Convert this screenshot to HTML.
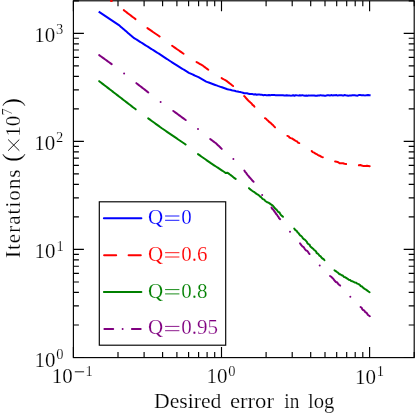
<!DOCTYPE html>
<html><head><meta charset="utf-8"><title>plot</title>
<style>html,body{margin:0;padding:0;background:#fff;overflow:hidden}svg{display:block}text{font-family:"Liberation Serif",serif;stroke:#fff;stroke-width:0.2px;}</style>
</head><body>
<svg style="will-change:transform" width="415" height="415" viewBox="0 0 415 415">
<rect width="415" height="415" fill="#fff"/>
<defs><clipPath id="c"><rect x="73.4" y="0.8" width="340.8" height="356.8"/></clipPath></defs>
<g clip-path="url(#c)" fill="none" stroke-width="2.00" stroke-linecap="round" stroke-linejoin="round">
<polyline stroke="#0000ff" stroke-linecap="butt" points="98.70,11.70 99.82,12.44 100.94,13.19 102.07,13.93 103.19,14.68 104.31,15.42 105.43,16.17 106.56,16.91 107.68,17.66 108.80,18.40 109.92,19.14 111.04,19.89 112.17,20.63 113.29,21.38 114.41,22.12 115.53,22.87 116.66,23.61 117.78,24.36 118.90,25.10 119.94,25.99 120.97,26.89 122.01,27.78 123.04,28.67 124.08,29.56 125.11,30.46 126.15,31.35 127.19,32.24 128.22,33.14 129.26,34.03 130.29,34.92 131.33,35.81 132.36,36.71 133.40,37.60 134.51,38.30 135.62,39.00 136.72,39.70 137.83,40.40 138.94,41.10 140.05,41.80 141.16,42.50 142.27,43.20 143.38,43.90 144.48,44.60 145.59,45.30 146.70,46.00 147.81,46.70 148.92,47.40 150.03,48.10 151.13,48.80 152.24,49.50 153.35,50.20 154.46,50.90 155.57,51.60 156.68,52.30 157.78,53.00 158.89,53.70 160.00,54.40 161.11,55.13 162.22,55.87 163.33,56.60 164.44,57.33 165.56,58.07 166.67,58.80 167.78,59.53 168.89,60.27 170.00,61.00 171.22,61.78 172.43,62.57 173.65,63.35 174.87,64.13 176.08,64.92 177.30,65.70 178.46,66.41 179.62,67.12 180.78,67.83 181.94,68.54 183.10,69.25 184.26,69.96 185.42,70.67 186.58,71.38 187.74,72.09 188.90,72.80 190.10,73.35 191.30,73.90 192.50,74.45 193.70,75.00 194.90,75.55 196.10,76.10 197.30,76.65 198.50,77.20 199.78,77.93 201.07,78.67 202.35,79.40 203.63,80.13 204.92,80.87 206.20,81.60 207.49,82.08 208.78,82.56 210.07,83.03 211.36,83.51 212.64,83.99 213.93,84.47 215.22,84.94 216.51,85.42 217.80,85.90 219.17,86.37 220.54,86.84 221.91,87.31 223.29,87.79 224.66,88.26 226.03,88.73 227.40,89.19 228.84,89.55 230.29,89.84 231.72,90.22 233.16,90.54 234.62,90.83 235.99,91.22 237.39,91.43 238.76,91.83 240.17,92.05 241.55,92.36 242.92,92.76 244.28,93.21 245.69,93.14 247.06,93.34 248.41,93.67 249.76,93.98 251.15,93.99 252.53,94.08 253.87,94.54 255.29,94.17 256.63,94.73 258.02,94.52 259.40,94.54 260.78,94.63 262.14,94.86 263.48,95.31 264.88,94.89 266.26,95.19 267.63,95.24 269.02,95.07 270.39,95.20 271.77,94.88 273.15,94.89 274.53,95.01 275.91,95.35 277.29,95.19 278.67,95.13 280.04,95.33 281.42,95.25 282.80,95.16 284.10,95.52 285.41,95.46 286.72,95.16 288.02,95.40 289.33,95.38 290.63,95.63 291.94,95.54 293.25,95.25 294.55,95.74 295.86,95.15 297.17,95.37 298.47,95.62 299.78,95.21 301.08,95.46 302.39,95.15 303.69,95.61 305.00,95.69 306.31,95.55 307.62,95.75 308.94,95.36 310.25,95.62 311.56,95.55 312.87,95.53 314.18,95.44 315.50,95.71 316.81,95.78 318.12,95.44 319.43,95.57 320.74,95.14 322.06,95.59 323.37,95.55 324.68,95.79 325.99,95.66 327.30,95.28 328.62,95.35 329.93,95.54 331.24,95.09 332.55,95.39 333.86,95.18 335.18,95.14 336.49,95.10 337.80,95.59 339.11,95.14 340.42,95.22 341.74,95.31 343.05,95.64 344.36,95.09 345.67,95.34 346.98,95.41 348.30,95.64 349.61,95.59 350.92,95.61 352.23,95.20 353.54,95.29 354.86,95.25 356.17,95.61 357.48,95.66 358.79,95.09 360.10,95.11 361.42,95.14 362.73,95.14 364.04,95.31 365.35,95.38 366.66,95.15 367.97,94.96 369.29,95.25 370.60,95.30"/>
<polyline stroke="#ff0000" points="99.17,-10.22 100.24,-9.36 101.31,-8.50 102.38,-7.64 103.46,-6.77 104.53,-5.91 105.60,-5.05 106.67,-4.19 107.74,-3.33 108.82,-2.46 109.89,-1.60 110.96,-0.74 112.03,0.12"/>
<polyline stroke="#ff0000" points="123.78,10.16 124.84,10.98 125.91,11.80 126.98,12.61 128.05,13.43 129.12,14.24 130.18,15.06 131.25,15.87 132.32,16.69 133.39,17.50 134.46,18.32 135.52,19.14"/>
<polyline stroke="#ff0000" points="147.40,28.14 148.51,28.90 149.63,29.67 150.75,30.44 151.87,31.20 152.99,31.97 154.11,32.73 155.23,33.50 156.35,34.26 157.47,35.03 158.59,35.80 159.70,36.56"/>
<polyline stroke="#ff0000" points="172.09,45.74 173.24,46.54 174.40,47.35 175.55,48.15 176.70,48.95 177.85,49.75 179.00,50.55 180.15,51.35 181.30,52.15 182.46,52.96 183.61,53.76"/>
<polyline stroke="#ff0000" points="196.53,62.09 197.70,62.73 198.88,63.37 200.05,64.02 201.23,64.66 202.40,65.30 203.58,66.19 204.77,67.08 205.95,67.96 207.14,68.85 208.32,69.74"/>
<polyline stroke="#ff0000" points="221.62,78.10 222.84,78.80 224.06,79.50 225.28,80.20 226.50,80.90 227.59,81.77 228.70,82.62 229.81,83.47 230.91,84.33 232.01,85.19 233.13,86.03"/>
<polyline stroke="#ff0000" points="244.12,96.03 245.17,96.90 245.90,98.09 246.87,99.03 247.78,100.04 248.74,101.00 249.80,101.86 250.75,102.83 251.79,103.71 252.55,104.86 253.70,105.64 254.48,106.77"/>
<polyline stroke="#ff0000" points="264.94,118.20 266.16,118.90 267.10,119.89 268.14,120.79 269.06,121.80 270.21,122.57 271.25,123.46 272.19,124.46 273.22,125.35 274.11,126.41 275.06,127.40"/>
<polyline stroke="#ff0000" points="287.31,135.91 288.68,136.34 289.57,137.57 290.86,138.13 292.23,138.57 293.39,139.35 294.55,140.13 295.74,140.85 297.03,141.43 297.96,142.58 299.29,143.09"/>
<polyline stroke="#ff0000" points="311.69,151.04 312.68,152.14 314.07,152.64 315.24,153.47 316.58,154.05 317.76,154.87 318.95,155.52 320.28,155.99 321.45,156.87 322.84,157.18"/>
<polyline stroke="#ff0000" points="335.07,161.49 336.69,161.77 338.26,162.18 339.60,163.30 341.30,163.27 342.94,163.26 344.50,163.78 346.11,164.01"/>
<polyline stroke="#ff0000" points="358.90,165.25 360.28,165.03 361.60,165.49 362.92,165.92 364.28,165.95 365.64,165.95 367.01,165.76 368.36,165.94 369.70,166.15"/>
<polyline stroke="#008000" points="99.18,81.17 100.22,81.97 101.26,82.78 102.31,83.58 103.35,84.39 104.40,85.19 105.44,85.99 106.49,86.80 107.53,87.60 108.57,88.41 109.62,89.21 110.66,90.02 111.71,90.82 112.75,91.63 113.80,92.43 114.84,93.24 115.88,94.04 116.93,94.85 117.97,95.65 119.02,96.46 120.06,97.26 121.10,98.07 122.15,98.87 123.19,99.68 124.24,100.48 125.28,101.29 126.33,102.09 127.37,102.90 128.41,103.70 129.46,104.51 130.50,105.31 131.55,106.11 132.59,106.92 133.64,107.72 134.68,108.53 135.72,109.33"/>
<polyline stroke="#008000" points="148.19,118.35 149.26,119.13 150.34,119.91 151.42,120.69 152.50,121.47 153.58,122.26 154.65,123.04 155.73,123.82 156.81,124.60 157.89,125.38 158.97,126.16 160.04,126.94 161.12,127.72 162.20,128.50 163.32,129.26 164.44,130.03 165.56,130.79 166.68,131.56 167.80,132.32 168.92,133.09 170.03,133.85 171.15,134.62 172.27,135.38 173.39,136.15 174.51,136.91 175.63,137.68 176.75,138.44 177.87,139.21 178.99,139.97 180.11,140.74 181.23,141.50 182.35,142.27 183.47,143.03 184.59,143.80 185.70,144.56"/>
<polyline stroke="#008000" points="197.99,154.14 199.09,154.92 200.19,155.69 201.29,156.46 202.39,157.23 203.49,158.00 204.60,158.77 205.70,159.54 206.80,160.31 207.90,161.09 209.00,161.86 210.10,162.63 211.20,163.40 212.29,164.12 213.38,164.83 214.47,165.55 215.57,166.27 216.66,166.98 217.75,167.70 218.84,168.42 219.93,169.13 221.03,169.85 222.12,170.57 223.21,171.28 224.30,172.00 225.60,173.00 227.60,172.71 228.76,173.59 229.91,174.50 231.09,175.36 232.26,176.23 233.37,177.19 234.51,178.11 235.72,178.93"/>
<polyline stroke="#008000" points="248.98,188.16 249.97,189.11 251.07,189.93 252.14,190.76 253.25,191.56 254.49,192.18 255.49,193.13 256.63,193.88 257.83,194.56 258.92,195.37 259.92,196.32 261.02,197.13 261.94,198.17 262.92,199.14 264.18,199.64 265.04,200.69 266.08,201.49 267.15,202.24 268.46,202.67 269.58,203.36 270.63,204.14 271.70,204.89 272.76,205.66 273.65,206.67 274.42,207.80 275.38,208.79 276.50,209.64 277.34,210.74 278.19,211.82 279.49,212.50 280.12,213.79 280.92,214.92 281.92,215.88 282.99,216.76"/>
<polyline stroke="#008000" points="294.21,228.54 294.96,229.62 295.98,230.45 297.02,231.27 297.59,232.52 298.70,233.26 299.34,234.44 300.16,235.49 301.35,236.18 302.25,237.14 302.87,238.36 303.89,239.22 305.07,239.92 305.99,240.86 306.88,241.83 307.39,243.16 308.34,244.07 309.58,244.72 310.13,246.01 310.95,247.04 312.02,247.85 313.08,248.67 313.88,249.72 315.04,250.48 316.06,251.38 316.55,252.82 317.67,253.62 318.69,254.52 319.45,255.68 320.66,256.40 321.41,257.58 322.39,258.51 323.66,259.17 324.48,260.28"/>
<polyline stroke="#008000" points="334.48,270.36 335.79,271.10 336.98,272.01 338.20,272.87 339.26,273.95 340.58,274.45 341.73,275.25 343.03,275.78 343.96,276.95 345.35,277.31 346.51,278.07 347.67,278.85 348.76,279.74 350.12,280.05 351.17,280.96 352.50,281.30 353.69,281.92 354.89,282.51 356.25,282.80 357.32,283.66 358.60,284.10 359.81,284.81 360.60,286.06 361.97,286.50 362.96,287.47 363.96,288.40 365.14,289.10 366.35,289.77 367.38,290.67 368.48,291.49 369.61,292.25"/>
<polyline stroke="#800080" points="99.19,55.15 100.33,55.97 101.46,56.79 102.60,57.60 103.74,58.42 104.88,59.24 106.02,60.06 107.16,60.88 108.30,61.70 109.44,62.51 110.57,63.33 111.71,64.15"/>
<polyline stroke="#800080" points="136.37,83.17 137.46,84.01 138.55,84.85 139.63,85.69 140.72,86.54 141.81,87.38 142.89,88.22 143.98,89.06 145.07,89.91 146.15,90.75 147.24,91.59 148.33,92.43"/>
<polyline stroke="#800080" points="173.28,110.95 174.41,111.78 175.54,112.61 176.67,113.43 177.80,114.26 178.93,115.09 180.07,115.91 181.20,116.74 182.33,117.57 183.46,118.39 184.59,119.22 185.72,120.05"/>
<polyline stroke="#800080" points="210.18,139.05 211.35,139.90 212.51,140.75 213.67,141.60 214.84,142.45 216.00,143.30 216.96,144.23 217.92,145.16 218.88,146.09 219.85,147.02 220.81,147.95 221.77,148.88"/>
<polyline stroke="#800080" points="244.35,170.59 245.13,171.85 246.19,172.91 246.92,174.21 247.88,175.34 248.83,176.40 249.64,177.60 250.70,178.58 251.64,179.66 252.54,180.78 253.60,181.76"/>
<polyline stroke="#800080" points="271.55,207.48 272.10,208.72 273.15,209.59 273.83,210.73 274.68,211.75 275.45,212.82 276.13,213.96 277.05,214.93 277.78,216.03 278.60,217.07 279.12,218.33 280.15,219.22"/>
<polyline stroke="#800080" points="300.00,243.25 300.77,244.32 301.55,245.39 302.39,246.40 303.62,247.07 304.33,248.19 305.00,249.35 305.93,250.28 307.17,250.94 308.05,251.91 308.76,253.04 309.60,254.05"/>
<polyline stroke="#800080" points="330.04,276.01 331.25,276.75 332.19,277.80 333.28,278.67 334.01,279.93 334.96,280.94 335.92,281.96 337.29,282.54 338.03,283.78 339.07,284.71 340.16,285.59"/>
<polyline stroke="#800080" points="360.53,307.02 361.64,307.77 362.21,309.06 363.10,310.03 364.40,310.58 364.98,311.88 366.18,312.52 367.08,313.49 367.76,314.67 368.78,315.52 369.87,316.28"/>
<circle cx="124.1" cy="73.4" r="1.0" fill="#800080" stroke="none"/>
<circle cx="160.6" cy="102.0" r="1.0" fill="#800080" stroke="none"/>
<circle cx="198.0" cy="129.1" r="1.0" fill="#800080" stroke="none"/>
<circle cx="233.4" cy="159.1" r="1.0" fill="#800080" stroke="none"/>
<circle cx="262.2" cy="194.9" r="1.0" fill="#800080" stroke="none"/>
<circle cx="290.0" cy="231.7" r="1.0" fill="#800080" stroke="none"/>
<circle cx="319.7" cy="265.5" r="1.0" fill="#800080" stroke="none"/>
<circle cx="350.3" cy="296.8" r="1.0" fill="#800080" stroke="none"/>
</g>
<g stroke="#000" stroke-width="1.15" fill="none">
<path d="M73.4 357.5V347.0M73.4 0.8V11.2"/>
<path d="M118.0 357.5V352.0M118.0 0.8V6.2"/>
<path d="M144.1 357.5V352.0M144.1 0.8V6.2"/>
<path d="M162.6 357.5V352.0M162.6 0.8V6.2"/>
<path d="M176.9 357.5V352.0M176.9 0.8V6.2"/>
<path d="M188.6 357.5V352.0M188.6 0.8V6.2"/>
<path d="M198.6 357.5V352.0M198.6 0.8V6.2"/>
<path d="M207.1 357.5V352.0M207.1 0.8V6.2"/>
<path d="M214.7 357.5V352.0M214.7 0.8V6.2"/>
<path d="M221.5 357.5V347.0M221.5 0.8V11.2"/>
<path d="M266.1 357.5V352.0M266.1 0.8V6.2"/>
<path d="M292.2 357.5V352.0M292.2 0.8V6.2"/>
<path d="M310.7 357.5V352.0M310.7 0.8V6.2"/>
<path d="M325.0 357.5V352.0M325.0 0.8V6.2"/>
<path d="M336.7 357.5V352.0M336.7 0.8V6.2"/>
<path d="M346.7 357.5V352.0M346.7 0.8V6.2"/>
<path d="M355.2 357.5V352.0M355.2 0.8V6.2"/>
<path d="M362.8 357.5V352.0M362.8 0.8V6.2"/>
<path d="M369.6 357.5V347.0M369.6 0.8V11.2"/>
<path d="M414.2 357.5V352.0M414.2 0.8V6.2"/>
<path d="M73.4 357.5H83.9M414.2 357.5H403.7"/>
<path d="M73.4 325.0H78.9M414.2 325.0H408.7"/>
<path d="M73.4 305.9H78.9M414.2 305.9H408.7"/>
<path d="M73.4 292.4H78.9M414.2 292.4H408.7"/>
<path d="M73.4 282.0H78.9M414.2 282.0H408.7"/>
<path d="M73.4 273.4H78.9M414.2 273.4H408.7"/>
<path d="M73.4 266.2H78.9M414.2 266.2H408.7"/>
<path d="M73.4 259.9H78.9M414.2 259.9H408.7"/>
<path d="M73.4 254.4H78.9M414.2 254.4H408.7"/>
<path d="M73.4 249.4H83.9M414.2 249.4H403.7"/>
<path d="M73.4 216.9H78.9M414.2 216.9H408.7"/>
<path d="M73.4 197.9H78.9M414.2 197.9H408.7"/>
<path d="M73.4 184.4H78.9M414.2 184.4H408.7"/>
<path d="M73.4 173.9H78.9M414.2 173.9H408.7"/>
<path d="M73.4 165.3H78.9M414.2 165.3H408.7"/>
<path d="M73.4 158.1H78.9M414.2 158.1H408.7"/>
<path d="M73.4 151.8H78.9M414.2 151.8H408.7"/>
<path d="M73.4 146.3H78.9M414.2 146.3H408.7"/>
<path d="M73.4 141.4H83.9M414.2 141.4H403.7"/>
<path d="M73.4 108.8H78.9M414.2 108.8H408.7"/>
<path d="M73.4 89.8H78.9M414.2 89.8H408.7"/>
<path d="M73.4 76.3H78.9M414.2 76.3H408.7"/>
<path d="M73.4 65.8H78.9M414.2 65.8H408.7"/>
<path d="M73.4 57.3H78.9M414.2 57.3H408.7"/>
<path d="M73.4 50.0H78.9M414.2 50.0H408.7"/>
<path d="M73.4 43.8H78.9M414.2 43.8H408.7"/>
<path d="M73.4 38.2H78.9M414.2 38.2H408.7"/>
<path d="M73.4 33.3H83.9M414.2 33.3H403.7"/>
<path d="M73.4 0.8H78.9M414.2 0.8H408.7"/>
<rect x="73.4" y="0.8" width="340.8" height="356.8"/>
</g>
<rect x="99.3" y="201.8" width="126.4" height="143.4" fill="#fff" stroke="#000" stroke-width="1.15"/>
<g fill="none" stroke-width="2">
<path stroke="#0000ff" d="M103.9 218.3H141.4" stroke-linecap="round"/>
<path stroke="#ff0000" stroke-linecap="round" d="M104.1 255.2H116.2M128.6 255.2H140.8"/>
<path stroke="#008000" d="M103.9 292.1H141.4" stroke-linecap="round"/>
<path stroke="#800080" stroke-linecap="round" d="M104.4 329.0H113.2M131.9 329.0H140.7"/>
<circle cx="122.6" cy="329.0" r="1" fill="#800080" stroke="none"/>
</g>
<text x="148.0" y="224.0" font-size="21" fill="#0000ff">Q</text><path d="M165.1 216.0H179.4M165.1 220.3H179.4" stroke="#0000ff" stroke-width="0.9" fill="none"/><text x="181.2" y="224.0" font-size="21" fill="#0000ff">0</text>
<text x="148.0" y="260.7" font-size="21" fill="#ff0000">Q</text><path d="M165.1 252.7H179.4M165.1 257.0H179.4" stroke="#ff0000" stroke-width="0.9" fill="none"/><text x="181.2" y="260.7" font-size="21" fill="#ff0000">0</text><text x="191.8" y="260.7" font-size="21" fill="#ff0000">.</text><text x="197.1" y="260.7" font-size="21" fill="#ff0000">6</text>
<text x="148.0" y="297.6" font-size="21" fill="#008000">Q</text><path d="M165.1 289.6H179.4M165.1 293.9H179.4" stroke="#008000" stroke-width="0.9" fill="none"/><text x="181.2" y="297.6" font-size="21" fill="#008000">0</text><text x="191.8" y="297.6" font-size="21" fill="#008000">.</text><text x="197.1" y="297.6" font-size="21" fill="#008000">8</text>
<text x="148.0" y="334.4" font-size="21" fill="#800080">Q</text><path d="M165.1 326.4H179.4M165.1 330.7H179.4" stroke="#800080" stroke-width="0.9" fill="none"/><text x="181.2" y="334.4" font-size="21" fill="#800080">0</text><text x="191.8" y="334.4" font-size="21" fill="#800080">.</text><text x="197.1" y="334.4" font-size="21" fill="#800080">9</text><text x="207.5" y="334.4" font-size="21" fill="#800080">5</text>
<text x="34.3" y="42.0" font-size="21" fill="#000">10</text>
<text x="56.1" y="34.3" font-size="14.5" fill="#000">3</text>
<text x="34.3" y="150.1" font-size="21" fill="#000">10</text>
<text x="56.1" y="142.4" font-size="14.5" fill="#000">2</text>
<text x="34.6" y="258.3" font-size="21" fill="#000">10</text>
<text x="56.4" y="250.6" font-size="14.5" fill="#000">1</text>
<text x="34.4" y="366.7" font-size="21" fill="#000">10</text>
<text x="56.2" y="359.0" font-size="14.5" fill="#000">0</text>
<text x="51.8" y="383.3" font-size="21" fill="#000">10</text>
<text x="85.5" y="375.6" font-size="14.5" fill="#000">1</text>
<path d="M74.8 371.8H84.1" stroke="#000" stroke-width="0.9" fill="none"/>
<text x="206.4" y="383.4" font-size="21" fill="#000">10</text>
<text x="228.2" y="375.7" font-size="14.5" fill="#000">0</text>
<text x="354.9" y="383.5" font-size="21" fill="#000">10</text>
<text x="376.7" y="375.8" font-size="14.5" fill="#000">1</text>
<text x="154.0" y="407.5" font-size="21" fill="#000" textLength="67.4" lengthAdjust="spacingAndGlyphs">Desired</text>
<text x="229.9" y="407.5" font-size="21" fill="#000" textLength="44.1" lengthAdjust="spacingAndGlyphs">error</text>
<text x="284.3" y="407.5" font-size="21" fill="#000" textLength="15.0" lengthAdjust="spacingAndGlyphs">in</text>
<text x="307.9" y="407.5" font-size="21" fill="#000" textLength="26.4" lengthAdjust="spacingAndGlyphs">log</text>
<g transform="translate(20.3,258.0) rotate(-90)"><text x="0" y="0" font-size="21" fill="#000" textLength="88.5" lengthAdjust="spacing">Iterations</text><text x="96.3" y="0" font-size="25" fill="#000">(</text><path d="M107.3 -12.2L118.5 -1.0M107.3 -1.0L118.5 -12.2" stroke="#000" stroke-width="0.9" fill="none"/><text x="121.2" y="0" font-size="21" fill="#000">10</text><text x="142.5" y="-8.0" font-size="14.5" fill="#000">7</text><text x="151.5" y="0" font-size="25" fill="#000">)</text></g>
<ellipse cx="111.4" cy="1.0" rx="1.5" ry="1.0" fill="#ff0000"/>
</svg></body></html>
